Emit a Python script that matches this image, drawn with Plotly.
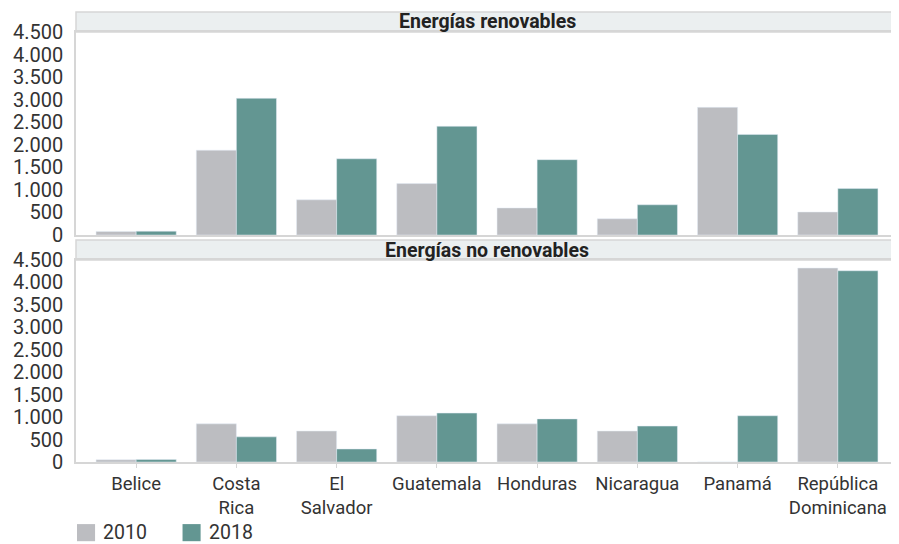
import plotly.graph_objects as go

paises = ["Belice", "Costa<br>Rica", "El<br>Salvador", "Guatemala", "Honduras",
          "Nicaragua", "Panamá", "República<br>Dominicana"]

# Energías renovables
renov_2010 = [80, 1880, 780, 1140, 600, 360, 2830, 510]
renov_2018 = [85, 3030, 1690, 2410, 1670, 670, 2230, 1030]

# Energías no renovables
norenov_2010 = [50, 850, 690, 1030, 850, 690, 0, 4320]
norenov_2018 = [55, 560, 290, 1090, 960, 800, 1030, 4260]

anios = ["2010", "2018"]

gris = "#bcbdc1"
verde = "#639692"
borde = "#d6d6d6"
fuente = "Roboto"
texto = "#333333"

fig = go.Figure()

fig.add_trace(go.Bar(x=paises, y=renov_2010, name=anios[0], marker_color=gris,
                     xaxis="x", yaxis="y"))
fig.add_trace(go.Bar(x=paises, y=renov_2018, name=anios[1], marker_color=verde,
                     xaxis="x", yaxis="y"))
fig.add_trace(go.Bar(x=paises, y=norenov_2010, name=anios[0], marker_color=gris,
                     xaxis="x2", yaxis="y2"))
fig.add_trace(go.Bar(x=paises, y=norenov_2018, name=anios[1], marker_color=verde,
                     xaxis="x2", yaxis="y2"))

eje_y = dict(range=[0, 4500], dtick=500, tickformat=",d", showgrid=False,
             showline=True, linecolor=borde, linewidth=1.5, mirror=True,
             ticks="", ticklabelstandoff=7, automargin=False,
             tickfont=dict(size=20, color=texto, family=fuente),
             zeroline=False)
eje_x = dict(showline=True, linecolor=borde, linewidth=1.5, mirror=True,
             showgrid=False, ticks="outside", ticklen=4, tickcolor=borde,
             automargin=False, range=[-0.6, 7.6],
             tickfont=dict(size=18.5, color=texto, family=fuente))

# franjas de titulo de cada panel (coordenadas de papel)
strip_top = (1.0, 0.9556)
strip_bot = (0.4933, 0.4489)
shapes = []
for y1, y0 in (strip_top, strip_bot):
    shapes.append(dict(type="rect", xref="paper", yref="paper", x0=0, x1=1,
                       y0=y0, y1=y1, fillcolor="#ebeff0",
                       line=dict(color=borde, width=1.5), layer="below"))

annotations = [
    dict(text="<b>Energías renovables</b>", xref="paper", yref="paper",
         x=0.5, y=(strip_top[0] + strip_top[1]) / 2, yanchor="middle",
         showarrow=False, font=dict(size=19.5, color="#222222", family=fuente)),
    dict(text="<b>Energías no renovables</b>", xref="paper", yref="paper",
         x=0.5, y=(strip_bot[0] + strip_bot[1]) / 2, yanchor="middle",
         showarrow=False, font=dict(size=19.5, color="#222222", family=fuente)),
]

# leyenda manual con cuadros grandes
for i, (nombre, color) in enumerate(zip(anios, [gris, verde])):
    x0 = 0.0012 + i * 0.1284
    shapes.append(dict(type="rect", xref="paper", yref="paper",
                       x0=x0, x1=x0 + 0.022, y0=-0.138, y1=-0.176,
                       fillcolor=color, line=dict(width=0)))
    annotations.append(dict(text=nombre, xref="paper", yref="paper",
                            x=x0 + 0.0294, y=-0.157, xanchor="left",
                            yanchor="middle", showarrow=False,
                            font=dict(size=19.5, color=texto, family=fuente)))

fig.update_layout(
    width=891, height=536,
    margin=dict(l=68, r=1, t=4, b=82),
    paper_bgcolor="white", plot_bgcolor="white",
    barmode="group", bargap=0.2, bargroupgap=0,
    separators=",.",
    showlegend=False,
    font=dict(family=fuente, color=texto),
    xaxis=dict(eje_x, anchor="y", showticklabels=False, ticks=""),
    yaxis=dict(eje_y, domain=[0.5044, 0.9556], anchor="x"),
    xaxis2=dict(eje_x, anchor="y2", matches="x"),
    yaxis2=dict(eje_y, domain=[0, 0.4489], anchor="x2"),
    shapes=shapes,
    annotations=annotations,
)

fig.write_html("out.html")
